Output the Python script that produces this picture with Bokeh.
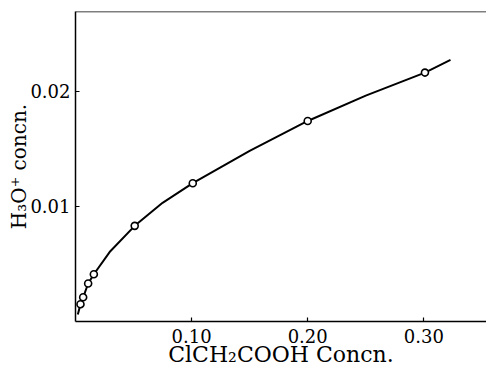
from bokeh.plotting import figure
from bokeh.models import FixedTicker, Span, Range1d
from bokeh.embed import file_html
from bokeh.resources import INLINE

# measured points (circles)
acid_conc = [0.0043, 0.0066, 0.0109, 0.0158, 0.051, 0.101, 0.200, 0.301]
h3o_conc = [0.0015, 0.0021, 0.0033, 0.0041, 0.0083, 0.0120, 0.0174, 0.0216]

# smooth curve
curve_x = [0.002, 0.0043, 0.0066, 0.0109, 0.0158, 0.030, 0.051, 0.075, 0.101, 0.150, 0.200, 0.250, 0.301, 0.323]
curve_y = [0.0006, 0.0015, 0.0021, 0.0033, 0.0041, 0.0061, 0.0083, 0.0103, 0.0120, 0.0148, 0.0174, 0.0196, 0.0216, 0.0227]

x_ticks = [0.10, 0.20, 0.30]
y_ticks = [0.01, 0.02]

FONT = "DejaVu Serif"

p = figure(width=486, height=369, output_backend="svg", toolbar_location=None,
           x_range=Range1d(0, 0.354), y_range=Range1d(0, 0.0269),
           min_border_left=75, min_border_right=0, min_border_top=11, min_border_bottom=44)
p.background_fill_color = "white"
p.border_fill_color = "white"
p.outline_line_color = None
p.grid.visible = False

p.line(curve_x, curve_y, line_color="black", line_width=2)
p.scatter(acid_conc, h3o_conc, size=7, marker="circle", fill_color="white",
          line_color="black", line_width=1.6)

p.add_layout(Span(location=0.0269, dimension="width", line_color="black", line_width=1.5))

for ax in (p.xaxis[0], p.yaxis[0]):
    ax.axis_line_color = "black"
    ax.axis_line_width = 1.5
    ax.major_tick_in = 4
    ax.major_tick_out = 0
    ax.major_tick_line_width = 1.2
    ax.minor_tick_line_color = None
    ax.major_label_text_font = FONT
    ax.major_label_text_font_size = "18px"
    ax.major_label_text_color = "black"
    ax.axis_label_text_font = FONT
    ax.axis_label_text_font_style = "normal"
    ax.axis_label_text_color = "black"

p.xaxis[0].ticker = FixedTicker(ticks=x_ticks)
p.yaxis[0].ticker = FixedTicker(ticks=y_ticks)
p.xaxis[0].major_label_overrides = {0.1: "0.10", 0.2: "0.20", 0.3: "0.30"}
p.yaxis[0].major_label_overrides = {0.01: "0.01", 0.02: "0.02"}
p.xaxis[0].major_label_standoff = 7
p.yaxis[0].major_label_standoff = 5
p.xaxis[0].axis_label = "ClCH₂COOH Concn."
p.yaxis[0].axis_label = "H₃O⁺ concn."
p.xaxis[0].axis_label_text_font_size = "22px"
p.yaxis[0].axis_label_text_font_size = "20px"
p.xaxis[0].axis_label_standoff = -4
p.yaxis[0].axis_label_standoff = -4

open("out.html", "w").write(file_html(p, INLINE))
